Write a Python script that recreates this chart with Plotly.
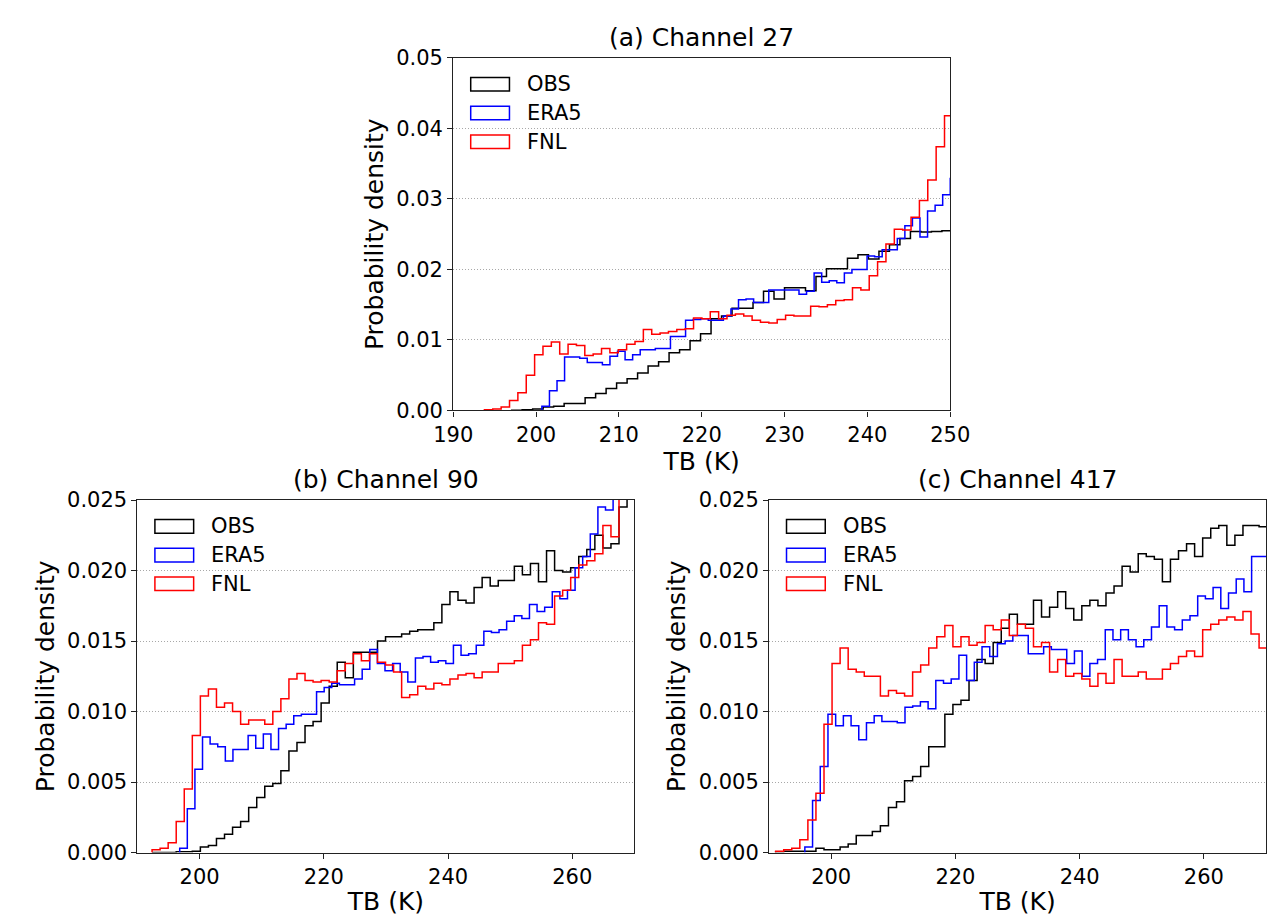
import numpy as np
import plotly.graph_objects as go

# ---------------- data (probability density per bin) ----------------
# Panel (a) Channel 27
A_OBS_START, A_OBS_W = 197.05, 1.267
A_OBS = [0.00003, 0.0001, 0.0002, 0.0005, 0.0006, 0.0010, 0.0010, 0.0018, 0.0024, 0.0031,
         0.0039, 0.0045, 0.0053, 0.0063, 0.0069, 0.0082, 0.0086, 0.0099, 0.0109, 0.0130,
         0.0134, 0.0145, 0.0145, 0.0153, 0.0169, 0.0158, 0.0174, 0.0174, 0.0170, 0.0190,
         0.0201, 0.0201, 0.0216, 0.0221, 0.0215, 0.0226, 0.0235, 0.0244, 0.0254, 0.0253,
         0.0254, 0.0255, 0.0256]
A_ERA5_START, A_ERA5_W = 200.7, 0.913
A_ERA5 = [0.0006, 0.0028, 0.0042, 0.0076, 0.0076, 0.0074, 0.0068, 0.0068, 0.0065, 0.0077,
          0.0084, 0.0072, 0.0079, 0.0086, 0.0086, 0.0088, 0.0088, 0.0105, 0.0105, 0.0128,
          0.0129, 0.0130, 0.0128, 0.0128, 0.0134, 0.0144, 0.0157, 0.0158, 0.0153, 0.0153,
          0.0171, 0.0171, 0.0171, 0.0171, 0.0165, 0.0169, 0.0195, 0.0182, 0.0184, 0.0181,
          0.0195, 0.0200, 0.0200, 0.0219, 0.0218, 0.0228, 0.0228, 0.0244, 0.0262, 0.0273,
          0.0246, 0.0283, 0.0291, 0.0306, 0.0329]
A_FNL_START, A_FNL_W = 193.76, 1.01
A_FNL = [0.0001, 0.0002, 0.0005, 0.0014, 0.0025, 0.0050, 0.0079, 0.0091, 0.0097, 0.0080,
         0.0094, 0.0092, 0.0078, 0.0080, 0.0088, 0.0082, 0.0086, 0.0094, 0.0098, 0.0115,
         0.0108, 0.0110, 0.0112, 0.0115, 0.0116, 0.0131, 0.0130, 0.0140, 0.0130, 0.0135,
         0.0137, 0.0134, 0.0128, 0.0125, 0.0124, 0.0129, 0.0135, 0.0134, 0.0134, 0.0148,
         0.0147, 0.0150, 0.0156, 0.0157, 0.0174, 0.0171, 0.0191, 0.0211, 0.0236, 0.0257,
         0.0256, 0.0274, 0.0298, 0.0327, 0.0374, 0.0418]

# Panel (b) Channel 90
B_OBS_START, B_OBS_W = 192.35, 1.296
B_OBS = [0.0, 0.0, 0.0, 0.00005, 0.00005, 0.0001, 0.0004, 0.0005, 0.0010, 0.0013,
         0.0018, 0.0022, 0.0032, 0.0039, 0.0047, 0.0049, 0.0058, 0.0072, 0.0078, 0.0090,
         0.0093, 0.0106, 0.0118, 0.0135, 0.0124, 0.0142, 0.0142, 0.0142, 0.0150, 0.0153,
         0.0153, 0.0155, 0.0157, 0.0158, 0.0158, 0.0163, 0.0176, 0.0185, 0.0179, 0.0177,
         0.0188, 0.0195, 0.0189, 0.0193, 0.0193, 0.0203, 0.0197, 0.0205, 0.0192, 0.0214,
         0.0200, 0.0199, 0.0202, 0.0210, 0.0215, 0.0225, 0.0216, 0.0219, 0.0245, 0.0262]
B_ERA5_START, B_ERA5_W = 196.8, 1.224
B_ERA5 = [0.0003, 0.0031, 0.0059, 0.0082, 0.0077, 0.0075, 0.0065, 0.0073, 0.0073, 0.0083,
          0.0074, 0.0084, 0.0073, 0.0088, 0.0091, 0.0097, 0.0098, 0.0098, 0.0114, 0.0117,
          0.0120, 0.0119, 0.0119, 0.0123, 0.0130, 0.0144, 0.0134, 0.0129, 0.0134, 0.0128,
          0.0121, 0.0138, 0.0139, 0.0135, 0.0136, 0.0134, 0.0147, 0.0140, 0.0141, 0.0147,
          0.0157, 0.0156, 0.0158, 0.0164, 0.0168, 0.0166, 0.0176, 0.0171, 0.0174, 0.0185,
          0.0180, 0.0186, 0.0202, 0.0210, 0.0226, 0.0245, 0.0243, 0.0262, 0.0275, 0.0285]
B_FNL_START, B_FNL_W = 192.35, 1.296
B_FNL = [0.0002, 0.0003, 0.0007, 0.0022, 0.0045, 0.0083, 0.0111, 0.0116, 0.0103, 0.0106,
         0.0100, 0.0091, 0.0094, 0.0094, 0.0091, 0.0100, 0.0109, 0.0123, 0.0127, 0.0122,
         0.0121, 0.0122, 0.0121, 0.0129, 0.0134, 0.0141, 0.0136, 0.0141, 0.0135, 0.0133,
         0.0128, 0.0110, 0.0112, 0.0118, 0.0116, 0.0120, 0.0119, 0.0123, 0.0126, 0.0127,
         0.0124, 0.0128, 0.0128, 0.0134, 0.0134, 0.0136, 0.0147, 0.0151, 0.0163, 0.0162,
         0.0182, 0.0186, 0.0195, 0.0204, 0.0207, 0.0212, 0.0232, 0.0224, 0.0262, 0.0270]

# Panel (c) Channel 417
C_OBS_START, C_OBS_W = 191.06, 1.297
C_OBS = [0.00005, 0.0001, 0.0001, 0.0001, 0.0001, 0.0003, 0.0002, 0.0002, 0.0004, 0.0006,
         0.0012, 0.0012, 0.0015, 0.0019, 0.0032, 0.0036, 0.0051, 0.0054, 0.0061, 0.0075,
         0.0075, 0.0098, 0.0105, 0.0108, 0.0122, 0.0137, 0.0134, 0.0149, 0.0159, 0.0169,
         0.0162, 0.0162, 0.0179, 0.0167, 0.0174, 0.0185, 0.0173, 0.0165, 0.0175, 0.0179,
         0.0175, 0.0184, 0.0189, 0.0203, 0.0199, 0.0212, 0.0210, 0.0208, 0.0192, 0.0208,
         0.0214, 0.0219, 0.0210, 0.0223, 0.0230, 0.0232, 0.0218, 0.0225, 0.0232, 0.0232,
         0.0231]
C_ERA5_START, C_ERA5_W = 195.76, 1.24
C_ERA5 = [0.0004, 0.0037, 0.0061, 0.0098, 0.0090, 0.0097, 0.0090, 0.0080, 0.0092, 0.0097,
          0.0093, 0.0093, 0.0092, 0.0103, 0.0104, 0.0107, 0.0102, 0.0122, 0.0120, 0.0123,
          0.0140, 0.0122, 0.0135, 0.0146, 0.0139, 0.0148, 0.0150, 0.0154, 0.0154, 0.0141,
          0.0141, 0.0146, 0.0144, 0.0144, 0.0134, 0.0143, 0.0125, 0.0134, 0.0137, 0.0158,
          0.0151, 0.0158, 0.0151, 0.0146, 0.0151, 0.0160, 0.0175, 0.0160, 0.0158, 0.0165,
          0.0168, 0.0182, 0.0180, 0.0188, 0.0173, 0.0184, 0.0194, 0.0185, 0.0210, 0.0210]
C_FNL_START, C_FNL_W = 191.06, 1.297
C_FNL = [0.0001, 0.0002, 0.0003, 0.0009, 0.0023, 0.0042, 0.0091, 0.0134, 0.0145, 0.0130,
         0.0128, 0.0125, 0.0125, 0.0111, 0.0115, 0.0113, 0.0111, 0.0128, 0.0133, 0.0145,
         0.0153, 0.0161, 0.0146, 0.0153, 0.0147, 0.0149, 0.0161, 0.0158, 0.0165, 0.0154,
         0.0162, 0.0159, 0.0146, 0.0149, 0.0128, 0.0137, 0.0125, 0.0127, 0.0123, 0.0118,
         0.0127, 0.0120, 0.0137, 0.0125, 0.0125, 0.0128, 0.0123, 0.0123, 0.0130, 0.0134,
         0.0139, 0.0143, 0.0139, 0.0158, 0.0162, 0.0165, 0.0167, 0.0165, 0.0171, 0.0155,
         0.0145]

SERIES_NAMES = ["OBS", "ERA5", "FNL"]
COLORS = ["#000000", "#0000ff", "#ff0000"]
PANEL_TITLES = ["(a) Channel 27", "(b) Channel 90", "(c) Channel 417"]
X_RANGES = [[190, 250], [190, 270], [190, 270]]
Y_RANGES = [[0, 0.05], [0, 0.025], [0, 0.025]]
X_TICKS = [[190, 200, 210, 220, 230, 240, 250], [200, 220, 240, 260], [200, 220, 240, 260]]
Y_DTICK = [0.01, 0.005, 0.005]
Y_FMT = [".2f", ".3f", ".3f"]

PANELS = [
    [(A_OBS_START, A_OBS_W, A_OBS), (A_ERA5_START, A_ERA5_W, A_ERA5), (A_FNL_START, A_FNL_W, A_FNL)],
    [(B_OBS_START, B_OBS_W, B_OBS), (B_ERA5_START, B_ERA5_W, B_ERA5), (B_FNL_START, B_FNL_W, B_FNL)],
    [(C_OBS_START, C_OBS_W, C_OBS), (C_ERA5_START, C_ERA5_W, C_ERA5), (C_FNL_START, C_FNL_W, C_FNL)],
]

# ---------------- layout geometry (pixels) ----------------
W, H = 1279, 914
BOXES = [(439, 952, 39, 401), (113, 626, 493, 855), (765, 1278, 493, 855)]  # left, right, top, bottom
FONT = "DejaVu Sans"
FS_TICK = 21
FS_LABEL = 25
FS_TITLE = 25
FS_LEG = 21


def dom_x(l, r):
    return [l / W, r / W]


def dom_y(t, b):
    return [(H - b) / H, (H - t) / H]


fig = go.Figure()
axis_ids = ["", "2", "3"]

for p, series in enumerate(PANELS):
    ax = axis_ids[p]
    for s, (start, width, vals) in enumerate(series):
        edges = start + width * np.arange(len(vals) + 1)
        xs = np.concatenate([[edges[0]], edges])
        ys = np.concatenate([[0.0], vals, [0.0]])
        fig.add_trace(go.Scatter(
            x=xs, y=ys, mode="lines", line=dict(color=COLORS[s], width=1.5, shape="hv"),
            xaxis="x" + ax, yaxis="y" + ax, showlegend=False, hoverinfo="skip"))

layout = dict(
    width=W, height=H, margin=dict(l=0, r=0, t=0, b=0),
    paper_bgcolor="white", plot_bgcolor="white",
    font=dict(family=FONT, size=FS_TICK, color="black"),
    showlegend=False,
)

annotations = []
shapes = []
for p in range(3):
    l, r, t, b = BOXES[p]
    ax = axis_ids[p]
    xkey = "xaxis" + ax
    ykey = "yaxis" + ax
    layout[xkey] = dict(
        domain=dom_x(l, r), range=X_RANGES[p], tickvals=X_TICKS[p],
        anchor="y" + ax, showgrid=False, zeroline=False,
        showline=True, mirror=True, linecolor="#222222", linewidth=1.2,
        ticks="outside", ticklen=5, tickwidth=1.2, tickcolor="#222222",
        tickfont=dict(size=FS_TICK, family=FONT, color="black"),
        title=dict(text="TB (K)", font=dict(size=FS_LABEL, family=FONT, color="black"), standoff=4),
    )
    layout[ykey] = dict(
        domain=dom_y(t, b), range=Y_RANGES[p], dtick=Y_DTICK[p], tick0=0, tickformat=Y_FMT[p],
        anchor="x" + ax, showgrid=True, gridcolor="#a8a8a8", griddash="1px,2px", gridwidth=1,
        zeroline=False, showline=True, mirror=True, linecolor="#222222", linewidth=1.2,
        ticks="outside", ticklen=5, tickwidth=1.2, tickcolor="#222222",
        tickfont=dict(size=FS_TICK, family=FONT, color="black"),
        title=dict(text="Probability density", font=dict(size=FS_LABEL, family=FONT, color="black"), standoff=5),
    )
    # panel title
    annotations.append(dict(
        text=PANEL_TITLES[p], xref="paper", yref="paper",
        x=(l + r) / 2 / W, y=(H - t + 4) / H, xanchor="center", yanchor="bottom",
        showarrow=False, font=dict(size=FS_TITLE, family=FONT, color="black")))
    # legend (box patches + labels)
    aw, ah = r - l, b - t
    for s, name in enumerate(SERIES_NAMES):
        top = 20 + 29.5 * s
        shapes.append(dict(
            type="rect", xref="x" + ax + " domain", yref="y" + ax + " domain",
            x0=18 / aw, x1=58 / aw, y0=1 - (top + 14) / ah, y1=1 - top / ah,
            line=dict(color=COLORS[s], width=1.5), fillcolor="rgba(0,0,0,0)"))
        annotations.append(dict(
            text=name, xref="x" + ax + " domain", yref="y" + ax + " domain",
            x=74 / aw, y=1 - (top + 7) / ah, xanchor="left", yanchor="middle",
            showarrow=False, font=dict(size=FS_LEG, family=FONT, color="black")))

layout["annotations"] = annotations
layout["shapes"] = shapes
fig.update_layout(**layout)
fig.write_html("out.html")
